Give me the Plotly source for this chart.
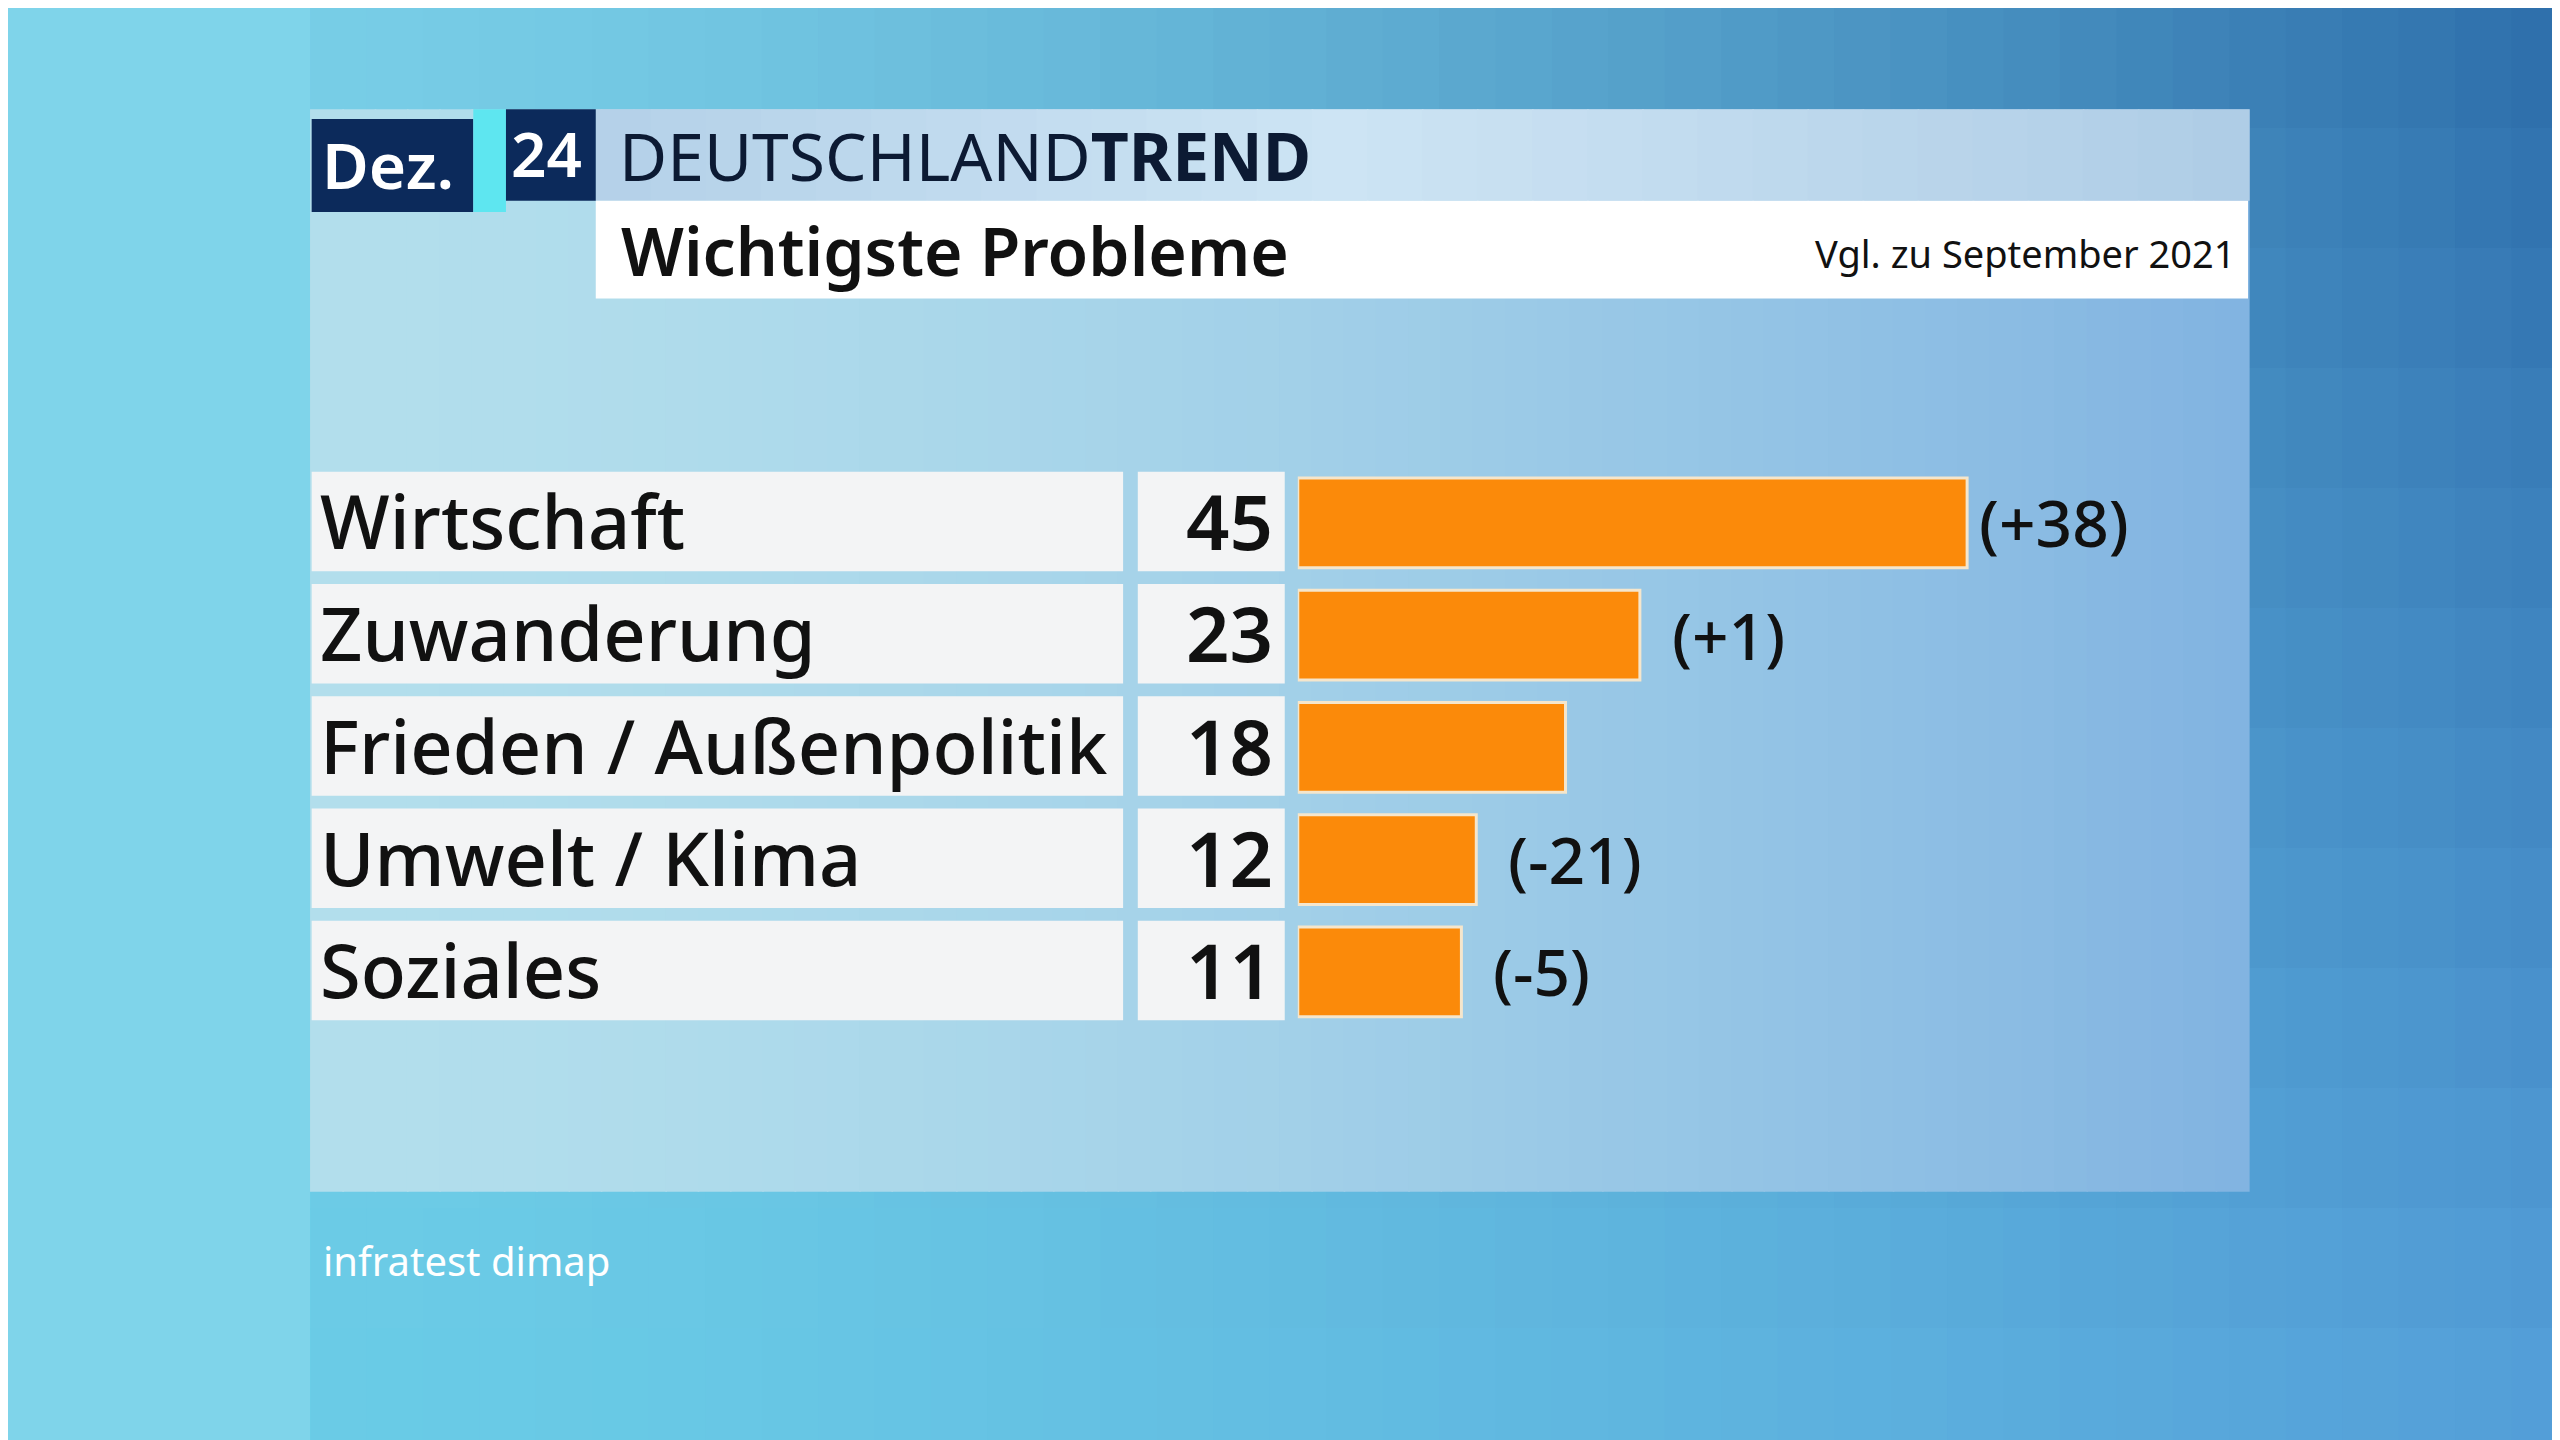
import plotly.graph_objects as go

# data
categories = ["Wirtschaft", "Zuwanderung", "Frieden / Außenpolitik", "Umwelt / Klima", "Soziales"]
values = [45, 23, 18, 12, 11]
changes = ["(+38)", "(+1)", "", "(-21)", "(-5)"]

W, H = 1568.0, 882.0  # layout grid of the reference, scaled to 2560x1440
FONT = "Noto Sans"


def px(x):
    return x / W


def py(y):
    return 1 - y / H


def lerp(c1, c2, t):
    return tuple(a + (b - a) * t for a, b in zip(c1, c2))


def rgb(c):
    return "rgb(%d,%d,%d)" % tuple(round(v) for v in c)


shapes = []


def box(x0, y0, x1, y1, color):
    shapes.append(dict(type="rect", xref="paper", yref="paper", x0=px(x0), x1=px(x1),
                       y0=py(y1), y1=py(y0), fillcolor=color, line_width=0, layer="below"))


# outer background gradient, built from a grid of small tiles
nx, ny = 40, 12
for i in range(nx):
    t = i / (nx - 1)
    x0 = 185 + (W - 185) * i / nx
    x1 = 185 + (W - 185) * (i + 1) / nx
    top = lerp((120, 205, 230), (45, 110, 170), t ** 1.4)
    bot = lerp((105, 203, 230), (85, 160, 218), t ** 1.4)
    for j in range(ny):
        y0 = H * j / ny
        y1 = H * (j + 1) / ny
        box(x0, y0, x1 + 1, y1 + 1, rgb(lerp(top, bot, (j + 0.5) / ny)))
box(0, 0, 185, H, "#7fd4ea")
# inner panel gradient
n = 60
for i in range(n):
    t = i / (n - 1)
    x0 = 185 + (1372 - 185) * i / n
    x1 = 185 + (1372 - 185) * (i + 1) / n
    box(x0, 62, x1 + 1, 725, rgb(lerp((178, 222, 236), (130, 180, 225), t ** 1.6)))

# header boxes
for i in range(30):
    t = i / 29
    x0 = 360 + (1372 - 360) * i / 30
    x1 = 360 + (1372 - 360) * (i + 1) / 30
    box(x0, 62, x1 + 1, 118, rgb(lerp((205, 228, 244), (175, 205, 230), abs(t - 0.45) * 1.8)))
box(360, 118, 1372, 178, "#ffffff")
box(186, 68, 285, 125, "#0c2a5b")
box(285, 62, 305, 125, "#5ee6f0")
box(305, 62, 360, 118, "#0c2a5b")

row_top, row_h = 284, 68.75
for i in range(len(categories)):
    y0 = row_top + i * row_h
    box(186, y0, 683, y0 + 61, "#f3f4f5")
    box(692, y0, 782, y0 + 61, "#f3f4f5")

annotations = [
    dict(x=px(191), y=py(96), text="Dez.", font=dict(size=64, color="white", family=FONT, weight=600)),
    dict(x=px(307), y=py(89), text="24", font=dict(size=62, color="white", family=FONT, weight=600)),
    dict(x=px(373), y=py(90), text="DEUTSCHLAND<b>TREND</b>", font=dict(size=66, color="#0c1a33", family=FONT)),
    dict(x=px(374), y=py(148), text="Wichtigste Probleme", font=dict(size=66, color="#111111", family=FONT, weight=600)),
    dict(x=px(1366), y=py(150), text="Vgl. zu September 2021", xanchor="right",
         font=dict(size=38, color="#111111", family=FONT)),
    dict(x=px(192), y=py(767), text="infratest dimap", font=dict(size=40, color="white", family=FONT)),
]
for a in annotations:
    a.setdefault("xanchor", "left")
    a.update(xref="paper", yref="paper", yanchor="middle", showarrow=False)

for i, (cat, v, ch) in enumerate(zip(categories, values, changes)):
    yc = row_top + i * row_h + 30
    annotations.append(dict(xref="paper", yref="paper", x=px(190), y=py(yc), xanchor="left", yanchor="middle",
                            text=cat, showarrow=False,
                            font=dict(size=74, color="#111111", family=FONT, weight=500)))
    annotations.append(dict(xref="paper", yref="paper", x=px(776), y=py(yc), xanchor="right", yanchor="middle",
                            text=str(v), showarrow=False,
                            font=dict(size=76, color="#111111", family=FONT, weight=600)))
    if ch:
        annotations.append(dict(xref="x", yref="y", x=v, y=cat, xanchor="left", yanchor="middle",
                                xshift=10 + (20 if v < 40 else 0), text=ch, showarrow=False,
                                font=dict(size=64, color="#111111", family=FONT, weight=500)))

fig = go.Figure(go.Bar(
    x=values, y=categories, orientation="h", width=0.8,
    marker=dict(color="#fb8a0a", line=dict(color="#f5e6cc", width=3)),
    hoverinfo="skip",
))

fig.update_layout(
    width=2560, height=1440, margin=dict(l=0, r=0, t=0, b=0),
    paper_bgcolor="#7fd4ea", plot_bgcolor="rgba(0,0,0,0)",
    showlegend=False, shapes=shapes, annotations=annotations,
    xaxis=dict(domain=[px(790), px(1372)], range=[0, 582 / 9.11], visible=False),
    yaxis=dict(domain=[py(284 + 5 * row_h - 3), py(284 - 3)], autorange="reversed",
               categoryorder="array", categoryarray=categories, visible=False),
)

fig.write_html("out.html")
